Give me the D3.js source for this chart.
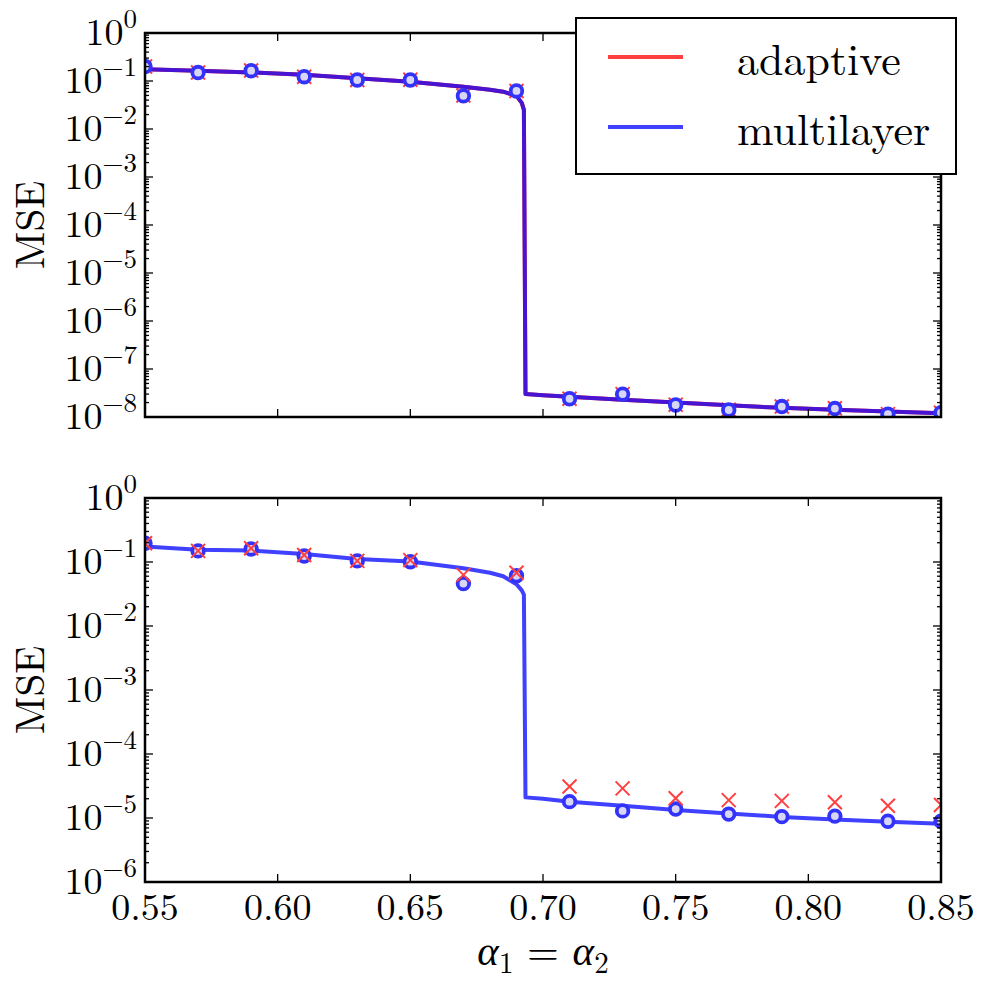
<!DOCTYPE html>
<html>
<head>
<meta charset="utf-8">
<script src="https://cdn.jsdelivr.net/npm/d3@7"></script>
<style>
  html, body { margin: 0; padding: 0; background: #fff; }
  svg { display: block; }
</style>
</head>
<body>
<svg id="chart" width="990" height="990"></svg>
<script>
// ---------------- DATA ----------------
const alphaPoints = [0.55,0.57,0.59,0.61,0.63,0.65,0.67,0.69,0.71,0.73,0.75,0.77,0.79,0.81,0.83,0.85];

// top panel markers
const topAdaptiveMarkers = [0.20,0.15,0.165,0.123,0.105,0.106,0.050,0.062,2.4e-8,3.0e-8,1.8e-8,1.42e-8,1.65e-8,1.52e-8,1.15e-8,1.23e-8];
const topMultilayerMarkers = [0.20,0.15,0.164,0.123,0.105,0.105,0.049,0.062,2.4e-8,3.0e-8,1.78e-8,1.4e-8,1.65e-8,1.5e-8,1.15e-8,1.23e-8];

// bottom panel markers
const bottomAdaptiveMarkers = [0.196,0.149,0.164,0.129,0.104,0.107,0.063,0.068,3.1e-5,2.9e-5,2.04e-5,1.9e-5,1.85e-5,1.76e-5,1.55e-5,1.6e-5];
const bottomMultilayerMarkers = [0.196,0.149,0.16,0.124,0.104,0.101,0.046,0.061,1.8e-5,1.29e-5,1.38e-5,1.15e-5,1.05e-5,1.07e-5,8.9e-6,8.9e-6];

// theory curves
const curveAlpha = [0.55,0.57,0.59,0.61,0.63,0.65,0.67,0.68,0.685,0.69,0.692,0.6928,0.6934,0.70,0.71,0.73,0.75,0.77,0.79,0.81,0.83,0.85];
const topAdaptiveCurve = [0.175,0.163,0.151,0.135,0.114,0.097,0.076,0.066,0.060,0.049,0.035,0.025,3.0e-8,2.85e-8,2.65e-8,2.3e-8,2.0e-8,1.75e-8,1.55e-8,1.42e-8,1.3e-8,1.2e-8];
const topMultilayerCurve = [0.175,0.163,0.151,0.135,0.114,0.097,0.076,0.066,0.060,0.049,0.035,0.025,3.0e-8,2.85e-8,2.65e-8,2.3e-8,2.0e-8,1.75e-8,1.55e-8,1.42e-8,1.3e-8,1.2e-8];
const bottomMultilayerCurve = [0.174,0.155,0.151,0.133,0.111,0.102,0.080,0.068,0.060,0.045,0.036,0.031,2.1e-5,2.0e-5,1.8e-5,1.55e-5,1.33e-5,1.18e-5,1.04e-5,9.5e-6,8.7e-6,8.1e-6];

const xTicks = [0.55,0.60,0.65,0.70,0.75,0.80,0.85];
const xTickLabels = ["0.55","0.60","0.65","0.70","0.75","0.80","0.85"];
const topExponents = [0,-1,-2,-3,-4,-5,-6,-7,-8];
const bottomExponents = [0,-1,-2,-3,-4,-5,-6];
const seriesNames = ["adaptive","multilayer"];

// ---------------- STYLE ----------------
const FONT = '"Latin Modern Roman", "Liberation Serif", serif';
const GREEK = '"Liberation Serif", serif';
const RED = "rgb(255,64,64)";
const BLUE = "rgb(64,64,255)";
const PURPLE = "rgb(70,20,210)";
const svg = d3.select("#chart");

const left = 145, right = 941;
const x = d3.scaleLinear().domain([0.55,0.85]).range([left,right]);

function txt(sel, size) {
  return sel.append("text").style("font-family", FONT).style("font-size", size + "px").attr("fill", "#000");
}

function panel(cfg) {
  const y = d3.scaleLog().domain([cfg.ymin, 1]).range([cfg.bottom, cfg.top]);
  const g = svg.append("g");
  const clipId = "clip" + cfg.id;
  svg.append("defs").append("clipPath").attr("id", clipId)
    .append("rect").attr("x", left).attr("y", cfg.top).attr("width", right-left).attr("height", cfg.bottom-cfg.top);
  const plot = g.append("g").attr("clip-path", `url(#${clipId})`);

  const line = d3.line().x(d => x(d[0])).y(d => y(d[1]));

  function drawLine(vals, color) {
    plot.append("path").datum(curveAlpha.map((a,i)=>[a, vals[i]]))
      .attr("d", line).attr("fill","none").attr("stroke", color)
      .attr("stroke-width", 4).attr("stroke-linejoin","round");
  }
  function drawX(vals) {
    const s = 7;
    plot.append("g").selectAll("path").data(alphaPoints.map((a,i)=>[a, vals[i]])).join("path")
      .attr("d", d => { const cx = x(d[0]), cy = y(d[1]);
        return `M${cx-s},${cy-s}L${cx+s},${cy+s}M${cx-s},${cy+s}L${cx+s},${cy-s}`; })
      .attr("stroke", RED).attr("stroke-width", 2).attr("fill","none");
  }
  function drawO(vals) {
    plot.append("g").selectAll("circle").data(alphaPoints.map((a,i)=>[a, vals[i]])).join("circle")
      .attr("cx", d => x(d[0])).attr("cy", d => y(d[1])).attr("r", 5.8)
      .attr("fill", "rgb(215,215,245)").attr("stroke", "rgb(50,50,250)").attr("stroke-width", 3.8);
  }
  cfg.draw({drawLine, drawX, drawO});

  // frame
  g.append("rect").attr("x", left).attr("y", cfg.top).attr("width", right-left).attr("height", cfg.bottom-cfg.top)
    .attr("fill","none").attr("stroke","#000").attr("stroke-width",2.5);

  const tk = g.append("g").attr("stroke","#000").attr("stroke-width",1.3);
  xTicks.forEach(t => {
    const px = x(t);
    tk.append("line").attr("x1",px).attr("x2",px).attr("y1",cfg.bottom).attr("y2",cfg.bottom-8);
    tk.append("line").attr("x1",px).attr("x2",px).attr("y1",cfg.top).attr("y2",cfg.top+8);
  });
  cfg.exps.forEach(e => {
    const py = y(Math.pow(10,e));
    tk.append("line").attr("x1",left).attr("x2",left+8).attr("y1",py).attr("y2",py);
    tk.append("line").attr("x1",right).attr("x2",right-8).attr("y1",py).attr("y2",py);
    if (e < 0) {
      for (let m = 2; m <= 9; m++) {
        const pm = y(m*Math.pow(10,e));
        tk.append("line").attr("x1",left).attr("x2",left+4).attr("y1",pm).attr("y2",pm);
        tk.append("line").attr("x1",right).attr("x2",right-4).attr("y1",pm).attr("y2",pm);
      }
    }
    const t = txt(g, 38).attr("x", 137).attr("y", py + 12).attr("text-anchor","end");
    t.append("tspan").text("10");
    t.append("tspan").attr("dy", -17).style("font-size", "27px").text(e === 0 ? "0" : "\u2212" + (-e));
  });

  txt(g, 41).attr("transform", `translate(44,${(cfg.top+cfg.bottom)/2}) rotate(-90)`)
    .attr("text-anchor","middle").text("MSE");

  if (cfg.xlabels) {
    xTicks.forEach((t,i) => {
      txt(g, 38).attr("x", x(t)).attr("y", 920).attr("text-anchor","middle").text(xTickLabels[i]);
    });
  }
}

panel({
  id: "top", top: 33, bottom: 417, ymin: 1e-8, exps: topExponents, xlabels: false,
  draw: ({drawLine, drawX, drawO}) => {
    drawLine(topAdaptiveCurve, RED);
    drawX(topAdaptiveMarkers);
    drawLine(topMultilayerCurve, PURPLE);
    drawO(topMultilayerMarkers);
  }
});

panel({
  id: "bottom", top: 498, bottom: 882, ymin: 1e-6, exps: bottomExponents, xlabels: true,
  draw: ({drawLine, drawX, drawO}) => {
    drawLine(bottomMultilayerCurve, BLUE);
    drawO(bottomMultilayerMarkers);
    drawX(bottomAdaptiveMarkers);
  }
});

// x label
const xl = txt(svg, 41).attr("x", 543).attr("y", 965).attr("text-anchor","middle");
xl.append("tspan").style("font-family", GREEK).style("font-style","italic").text("\u03b1");
xl.append("tspan").attr("dy", 8).style("font-size", "29px").text("1");
xl.append("tspan").attr("dy", -8).text(" = ");
xl.append("tspan").style("font-family", GREEK).style("font-style","italic").text("\u03b1");
xl.append("tspan").attr("dy", 8).style("font-size", "29px").text("2");

// legend
const lg = svg.append("g");
lg.append("rect").attr("x",576).attr("y",18).attr("width",380).attr("height",156)
  .attr("fill","#fff").attr("stroke","#000").attr("stroke-width",2);
const legendColors = [RED, BLUE];
const legendY = [57, 127];
seriesNames.forEach((n,i) => {
  lg.append("line").attr("x1",608).attr("x2",683).attr("y1",legendY[i]).attr("y2",legendY[i])
    .attr("stroke",legendColors[i]).attr("stroke-width",4);
  txt(lg, 44).attr("x",737).attr("y",legendY[i]+18).text(n);
});
</script>
</body>
</html>
